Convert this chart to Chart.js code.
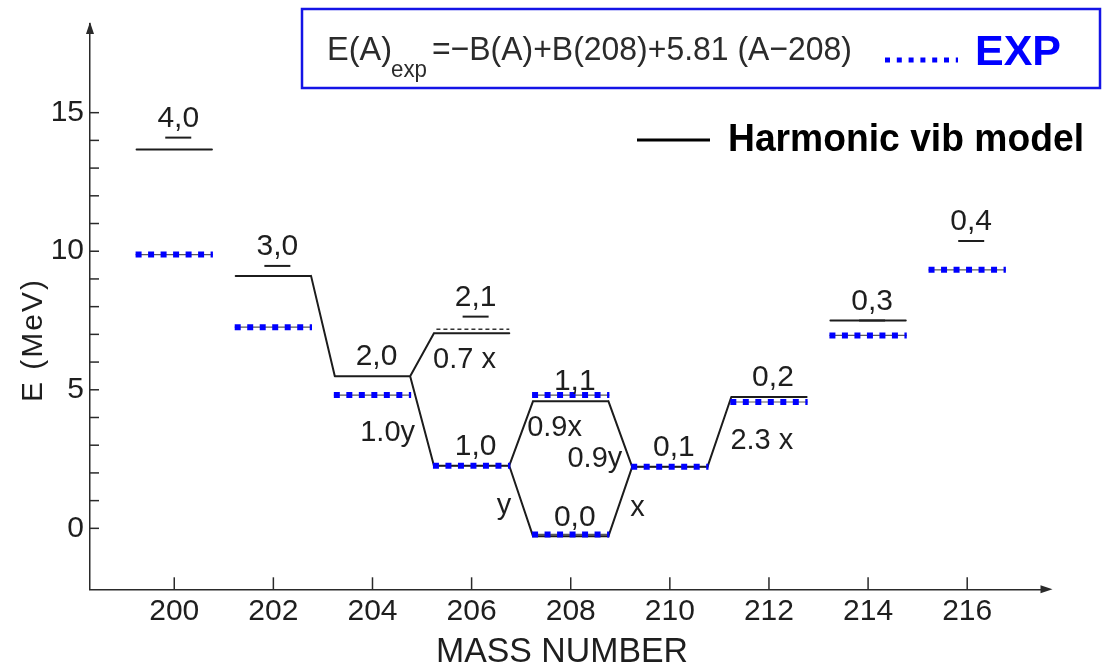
<!DOCTYPE html>
<html>
<head>
<meta charset="utf-8">
<script src="https://cdn.jsdelivr.net/npm/chart.js@4.4.0/dist/chart.umd.min.js"></script>
<style>
  html, body { margin: 0; padding: 0; background: #fff; }
  #wrap { position: relative; width: 1119px; height: 666px; }
</style>
</head>
<body>
<div id="wrap"><canvas id="c" width="1119" height="666"></canvas></div>
<script>
// Axis ticks
const massTicks = [200, 202, 204, 206, 208, 210, 212, 214, 216];
const energyTicks = [0, 5, 10, 15];

// Harmonic pairing-vibration model levels (MeV)
const harmMass   = [200, 202, 204, 206, 206, 208, 208, 210, 212, 214];
const harmEnergy = [13.67, 9.11, 5.49, 2.26, 7.04, 4.59, -0.29, 2.22, 4.74, 7.50];

// Transitions between model levels (indices into the arrays above) and their strengths
const transFrom = [1, 2, 2, 3, 3, 5, 6, 7];
const transTo   = [2, 3, 4, 5, 6, 7, 7, 8];
const transText = ['', '1.0y', '0.7 x', '0.9x', 'y', '0.9y', 'x', '2.3 x'];

// Experimental levels E(A)exp (MeV)
const expMass   = [200, 202, 204, 206, 208, 208, 210, 212, 214, 216];
const expEnergy = [9.88, 7.26, 4.81, 2.26, 4.81, -0.22, 2.22, 4.56, 6.96, 9.33];

// Extra dashed level drawn above the 2,1 state
const dashedMass   = [206];
const dashedEnergy = [7.18];

// (n+, n-) quantum-number tags
const tagText      = ['4,0', '3,0', '2,0', '1,0', '2,1', '1,1', '0,0', '0,1', '0,2', '0,3', '0,4'];
const tagMass      = [200, 202, 204, 206, 206, 208, 208, 210, 212, 214, 216];
const tagEnergy    = [14.10, 9.47, 5.49, 2.26, 7.64, 4.59, -0.29, 2.22, 4.74, 7.50, 10.37];
const tagUnderline = [true, true, false, false, true, false, false, false, false, true, true];

// ---- geometry helpers -------------------------------------------------
const HALF = 0.76;      // half width of a level bar, in mass units
const EXP_HALF = 0.78;

function joinSegments(segs) {
  const out = [];
  segs.forEach((s, i) => {
    if (i) out.push({ x: s[0].x, y: null });
    out.push(...s);
  });
  return out;
}

const harmSegs = harmMass.map((a, i) => [{ x: a - HALF, y: harmEnergy[i] }, { x: a + HALF, y: harmEnergy[i] }]);
transFrom.forEach((f, k) => {
  const t = transTo[k];
  harmSegs.push([{ x: harmMass[f] + HALF, y: harmEnergy[f] }, { x: harmMass[t] - HALF, y: harmEnergy[t] }]);
});
const harmData = joinSegments(harmSegs);
const expData = joinSegments(expMass.map((a, i) => [{ x: a - EXP_HALF, y: expEnergy[i] }, { x: a + EXP_HALF, y: expEnergy[i] }]));
const dashedData = joinSegments(dashedMass.map((a, i) => [{ x: a - HALF + 0.05, y: dashedEnergy[i] }, { x: a + HALF, y: dashedEnergy[i] }]));

// ---- drawing styles ---------------------------------------------------
const INK = '#1e1e1e';
const FONT = '"Liberation Sans", Arial, sans-serif';
const BLUE = '#0000ff';

// placement of the transition-strength labels: [align, dx, dy] in px from the transition midpoint
const transPlace = [null, ['right', -7, 12], ['left', 11, 5], ['left', 6, -5], ['right', -10, 5],
                    ['right', 2, 25], ['left', 10, 6], ['left', 11, 9]];

const decorations = {
  id: 'decorations',
  afterDraw(chart) {
    const { ctx, chartArea: ca, scales: { x: xs, y: ys } } = chart;
    ctx.save();
    ctx.strokeStyle = '#2a2a2a';
    ctx.fillStyle = '#2a2a2a';
    ctx.lineWidth = 1.5;

    // y-axis minor/major ticks (inside), arrow head
    for (let e = energyTicks[0]; e <= energyTicks[energyTicks.length - 1]; e++) {
      const py = ys.getPixelForValue(e);
      ctx.beginPath(); ctx.moveTo(ca.left, py); ctx.lineTo(ca.left + 9, py); ctx.stroke();
    }
    ctx.beginPath();
    ctx.moveTo(ca.left - 4, ca.top + 10); ctx.lineTo(ca.left, ca.top - 2); ctx.lineTo(ca.left + 4, ca.top + 10);
    ctx.closePath(); ctx.fill();

    // x-axis ticks (upward), arrow head
    massTicks.forEach(m => {
      const px = xs.getPixelForValue(m);
      ctx.beginPath(); ctx.moveTo(px, ca.bottom); ctx.lineTo(px, ca.bottom - 12); ctx.stroke();
    });
    ctx.beginPath();
    ctx.moveTo(ca.right - 6, ca.bottom - 4); ctx.lineTo(ca.right + 6, ca.bottom); ctx.lineTo(ca.right - 6, ca.bottom + 4);
    ctx.closePath(); ctx.fill();

    // quantum-number tags
    ctx.fillStyle = INK; ctx.strokeStyle = INK;
    ctx.font = '30px ' + FONT;
    ctx.textAlign = 'center'; ctx.textBaseline = 'middle';
    tagText.forEach((s, i) => {
      const px = xs.getPixelForValue(tagMass[i]) + 4;
      const py = ys.getPixelForValue(tagEnergy[i]);
      ctx.fillText(s, px, py - 19);
      if (tagUnderline[i]) {
        ctx.lineWidth = 2;
        ctx.beginPath(); ctx.moveTo(px - 13, py); ctx.lineTo(px + 13, py); ctx.stroke();
      }
    });

    // transition strengths
    ctx.font = '29px ' + FONT;
    transText.forEach((s, k) => {
      if (!s) return;
      const f = transFrom[k], t = transTo[k];
      const x1 = xs.getPixelForValue(harmMass[f] + HALF), y1 = ys.getPixelForValue(harmEnergy[f]);
      const x2 = xs.getPixelForValue(harmMass[t] - HALF), y2 = ys.getPixelForValue(harmEnergy[t]);
      const [align, dx, dy] = transPlace[k];
      ctx.textAlign = align;
      ctx.fillText(s, (x1 + x2) / 2 + dx, (y1 + y2) / 2 + dy);
    });

    // axis titles
    ctx.font = '35px ' + FONT;
    ctx.textAlign = 'center'; ctx.textBaseline = 'alphabetic';
    ctx.fillText('MASS NUMBER', 562, 662, 252);
    ctx.save();
    ctx.translate(42, 340);
    ctx.rotate(-Math.PI / 2);
    ctx.font = '30px ' + FONT;
    ctx.letterSpacing = '2px';
    ctx.fillText('E (MeV)', 0, 0);
    ctx.restore();

    // formula box with the EXP key
    ctx.strokeStyle = '#1414e6'; ctx.lineWidth = 2.5;
    ctx.strokeRect(302, 9, 798, 79);
    ctx.fillStyle = '#2b2b2b';
    ctx.textAlign = 'left'; ctx.textBaseline = 'alphabetic';
    ctx.font = '34px ' + FONT;
    ctx.fillText('E(A)', 327, 60, 65);
    ctx.font = '23px ' + FONT;
    ctx.fillText('exp', 391, 77, 36);
    ctx.font = '34px ' + FONT;
    ctx.fillText('=\u2212B(A)+B(208)+5.81 (A\u2212208)', 432, 60, 420);

    const expDs = chart.data.datasets[0];
    ctx.strokeStyle = expDs.borderColor; ctx.lineWidth = 5;
    ctx.setLineDash([5, 6.8]);
    ctx.beginPath(); ctx.moveTo(885, 60); ctx.lineTo(958, 60); ctx.stroke();
    ctx.setLineDash([]);
    ctx.fillStyle = expDs.borderColor;
    ctx.font = 'bold 43px ' + FONT;
    ctx.fillText(expDs.label, 975, 65, 88);

    // harmonic model key
    const harmDs = chart.data.datasets[1];
    ctx.strokeStyle = '#000'; ctx.lineWidth = 3;
    ctx.beginPath(); ctx.moveTo(637, 140); ctx.lineTo(710, 140); ctx.stroke();
    ctx.fillStyle = '#000';
    ctx.font = 'bold 39px ' + FONT;
    ctx.textBaseline = 'middle';
    ctx.fillText(harmDs.label, 728, 140, 356);
    ctx.restore();
  }
};

const tickFont = { family: FONT, size: 30 };

new Chart(document.getElementById('c').getContext('2d'), {
  type: 'line',
  data: {
    datasets: [
      { label: 'EXP', data: expData, borderColor: BLUE, borderWidth: 6, borderDash: [6, 6.5],
        borderCapStyle: 'butt', pointRadius: 0, tension: 0, order: 0 },
      { label: 'Harmonic vib model', data: harmData, borderColor: '#1c1c1c', borderWidth: 2,
        borderCapStyle: 'round', borderJoinStyle: 'round', pointRadius: 0, tension: 0, order: 1 },
      { label: 'exp guide', data: expData, borderColor: '#5a5a5a', borderWidth: 1.2, pointRadius: 0, order: 2 },
      { label: '2,1 dashed', data: dashedData, borderColor: '#333', borderWidth: 1.5, borderDash: [4, 3],
        pointRadius: 0, order: 2 }
    ]
  },
  options: {
    responsive: false,
    animation: false,
    devicePixelRatio: 1,
    layout: { padding: { left: 0, right: 72.5, top: 20.8, bottom: 0 }, autoPadding: false },
    plugins: { legend: { display: false }, tooltip: { enabled: false } },
    scales: {
      x: {
        type: 'linear', min: 198.3, max: 217.6,
        afterBuildTicks: s => { s.ticks = massTicks.map(v => ({ value: v })); },
        afterFit: s => { s.height = 76.7; },
        grid: { display: false, drawTicks: false },
        border: { display: true, color: '#2a2a2a', width: 1.5 },
        ticks: { padding: 4, font: tickFont, color: INK, autoSkip: false, maxRotation: 0 }
      },
      y: {
        type: 'linear', min: -2.2, max: 18.2,
        afterBuildTicks: s => { s.ticks = energyTicks.map(v => ({ value: v })); },
        afterFit: s => { s.width = 90; },
        grid: { display: false, drawTicks: false },
        border: { display: true, color: '#2a2a2a', width: 1.5 },
        ticks: { padding: 6, font: tickFont, color: INK }
      }
    }
  },
  plugins: [decorations]
});
</script>
</body>
</html>
